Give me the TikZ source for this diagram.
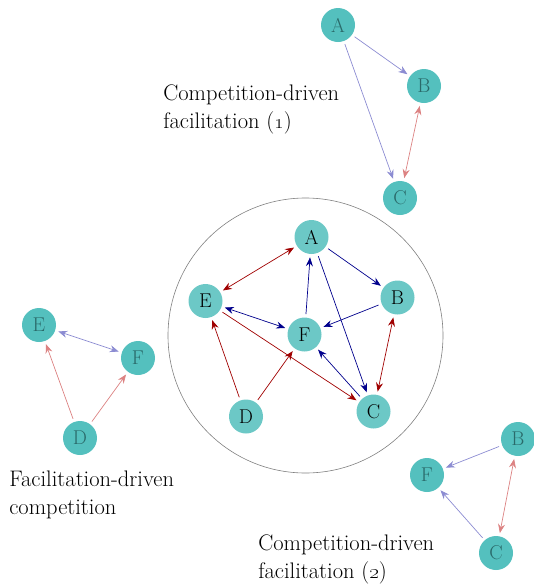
\documentclass[tikz,border=0pt]{standalone}
\usetikzlibrary{arrows.meta}

\definecolor{teal1}{HTML}{6CC8C6}
\definecolor{teal2}{HTML}{54C0BE}
\definecolor{tealtext}{HTML}{2A6A6A}
\definecolor{compblue}{HTML}{00008C}
\definecolor{facred}{HTML}{A00000}
\definecolor{compbluelt}{HTML}{8C8CD2}
\definecolor{facredlt}{HTML}{DC8282}

\tikzset{
  species/.style={circle,fill=teal1,inner sep=0pt,minimum size=34pt,font=\fontsize{20}{20}\selectfont},
  motif/.style={species,fill=teal2,text=tealtext},
  caption/.style={align=left,anchor=north west,inner sep=0pt,font=\fontsize{22.5}{28}\selectfont},
  comp/.style={compblue},
  fac/.style={facred},
  complt/.style={compbluelt},
  faclt/.style={facredlt}
}

\begin{document}
\begin{tikzpicture}[>={Stealth[length=9pt,width=7pt,inset=3pt]},x=1pt,y=-1pt,line width=0.7pt,shorten >=3pt,shorten <=3pt]
\useasboundingbox (0,0) rectangle (534,587);

% whole network
\draw[gray,line width=0.6pt] (305.5,335.5) circle (137.5);
\node[species] (A) at (311.5,237) {A};
\node[species] (B) at (397.5,297.5) {B};
\node[species] (C) at (373.5,411.5) {C};
\node[species] (D) at (246,416.5) {D};
\node[species] (E) at (205.5,301) {E};
\node[species] (F) at (304.5,334.5) {F};
	\path[->] (A)  edge[comp]	(B)
						edge[comp]	(C)
				(F)  edge[comp]	(A)
				(B)  edge[comp]	(F)
				(C)  edge[comp]	(F)
				(E)  edge[comp,<->]	(F)
					edge[fac,<->]	(A)
					edge[fac]	(C)
				(B)  edge[fac,<->]	(C)
				(D)  edge[fac]	(E)
					edge[fac]	(F);

% competition-driven facilitation (1)
\node[motif] (tA) at (338,25) {A};
\node[motif] (tB) at (424,86) {B};
\node[motif] (tC) at (400,198) {C};
	\path[->] (tA)  edge[complt]	(tB)
					edge[complt]	(tC)
				(tB)  edge[faclt,<->]	(tC);
\node[caption] (tlabel) at (163,84) {Competition-driven\\facilitation (\oldstylenums{1})};

% facilitation-driven competition
\node[motif] (lE) at (39,325) {E};
\node[motif] (lF) at (138,358) {F};
\node[motif] (lD) at (80,438) {D};
	\path[->] (lE)  edge[complt,<->]	(lF)
				(lD)  edge[faclt]	(lE)
					edge[faclt]	(lF);
\node[caption] (llabel) at (9,471) {Facilitation-driven\\competition};

% competition-driven facilitation (2)
\node[motif] (rB) at (518,439) {B};
\node[motif] (rF) at (427,475) {F};
\node[motif] (rC) at (496,553) {C};
	\path[->] (rB)  edge[complt]	(rF)
				(rC)  edge[complt]	(rF)
				(rB)  edge[faclt,<->]	(rC);
\node[caption] (rlabel) at (258,534) {Competition-driven\\facilitation (\oldstylenums{2})};

\end{tikzpicture}
\end{document}
